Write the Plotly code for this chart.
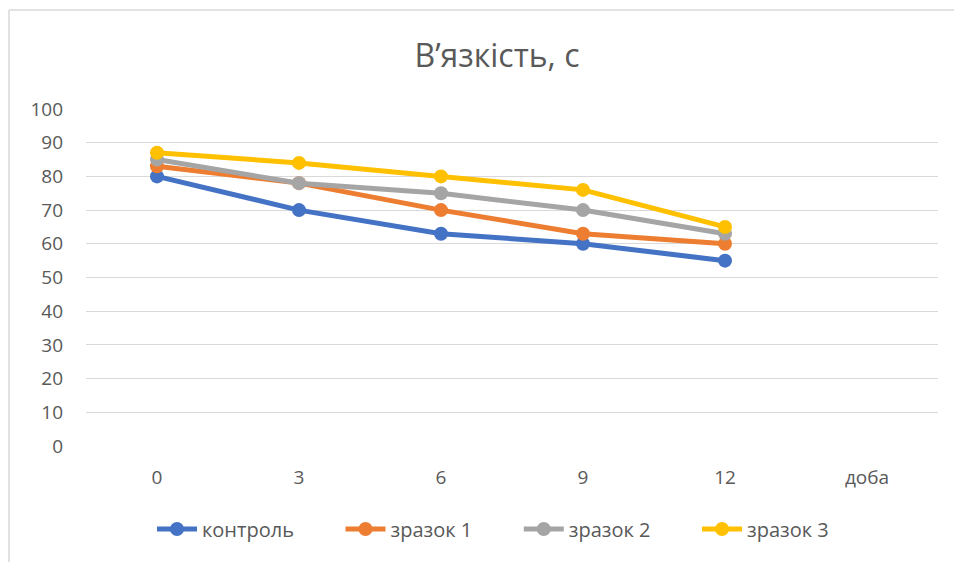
import plotly.graph_objects as go

categories = ["0", "3", "6", "9", "12", "доба"]
days = ["0", "3", "6", "9", "12"]
kontrol = [80, 70, 63, 60, 55]
zrazok1 = [83, 78, 70, 63, 60]
zrazok2 = [85, 78, 75, 70, 63]
zrazok3 = [87, 84, 80, 76, 65]

series = [
    ("контроль", kontrol, "#4472C4"),
    ("зразок 1", zrazok1, "#ED7D31"),
    ("зразок 2", zrazok2, "#A5A5A5"),
    ("зразок 3", zrazok3, "#FFC000"),
]

PAD = "\u00a0" * 8

fig = go.Figure()
for i, (name, vals, col) in enumerate(series):
    fig.add_trace(go.Scatter(
        x=days, y=vals, name=name + (PAD if i < len(series) - 1 else ""),
        mode="lines+markers",
        line=dict(color=col, width=5),
        marker=dict(color=col, size=14),
    ))

L, R, T, B = 86, 16, 109, 116
W, H = 954, 562
pw, ph = W - L - R, H - T - B

def px_x(p):
    return (p - L) / pw

def px_y(p):
    return (H - B - p) / ph

fig.update_layout(
    width=W, height=H,
    margin=dict(l=L, r=R, t=T, b=B),
    paper_bgcolor="white", plot_bgcolor="white",
    font=dict(family="Open Sans", color="#595959", size=19),
    title=dict(text="В’язкість, с", x=497 / W, xanchor="center", y=1 - 56 / H, yanchor="middle",
               font=dict(size=32, color="#595959", family="Open Sans")),
    xaxis=dict(type="category", categoryorder="array", categoryarray=categories,
               range=[-0.5, 5.5], showgrid=False, zeroline=False, showline=False,
               tickfont=dict(size=19, color="#595959"), ticklabelstandoff=18),
    yaxis=dict(range=[0, 100], dtick=10, showgrid=True, gridcolor="#d9d9d9", gridwidth=1.3,
               zeroline=False, showline=False,
               tickfont=dict(size=19, color="#595959"), ticklabelstandoff=22),
    legend=dict(orientation="h", x=px_x(493), xanchor="center", y=px_y(529), yanchor="middle",
                font=dict(size=20, color="#595959"), itemwidth=40, tracegroupgap=0),
    showlegend=True,
    shapes=[
        dict(type="line", xref="paper", yref="paper", x0=px_x(9), x1=px_x(9),
             y0=px_y(10), y1=px_y(570), line=dict(color="#d9d9d9", width=1.5)),
        dict(type="line", xref="paper", yref="paper", x0=px_x(9), x1=px_x(960),
             y0=px_y(10), y1=px_y(10), line=dict(color="#d9d9d9", width=1.5)),
    ],
)

fig.write_html("out.html", config={"displayModeBar": False},
               post_script="document.body.style.margin='0';document.body.style.padding='0';")
